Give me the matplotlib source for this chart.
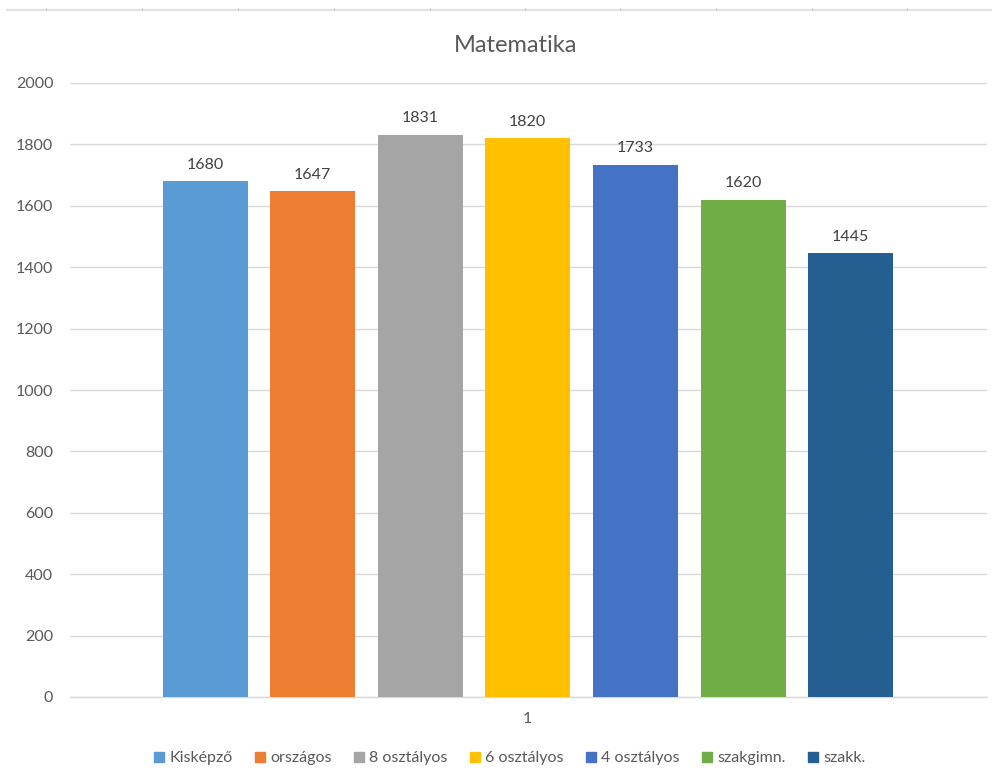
import matplotlib
matplotlib.use("Agg")
import matplotlib.pyplot as plt
from matplotlib.lines import Line2D

categories = ["Kisképző", "országos", "8 osztályos", "6 osztályos", "4 osztályos", "szakgimn.", "szakk."]
values = [1680, 1647, 1831, 1820, 1733, 1620, 1445]
colors = ["#5B9BD5", "#ED7D31", "#A5A5A5", "#FFC000", "#4472C4", "#70AD47", "#255E91"]
yticks = [0, 200, 400, 600, 800, 1000, 1200, 1400, 1600, 1800, 2000]
x_label = "1"
title = "Matematika"

plt.rcParams['font.family'] = ['Lato', 'DejaVu Sans']
txt = "#595959"
fs = 11.5

W, H = 992, 782
fig = plt.figure(figsize=(W / 100, H / 100), dpi=100)

# top stray border line with ticks (from cropped screenshot)
top = fig.add_axes([0, 0, 1, 1], zorder=-1)
top.set_xlim(0, W)
top.set_ylim(H, 0)
top.axis("off")
top.plot([7, W], [10, 10], color="#E2E2E2", lw=1.6)
for tx in [46, 142, 238, 334, 430, 525, 620, 716, 812, 907]:
    top.plot([tx, tx], [7.5, 10], color="#D0D0D0", lw=0.8)

left, right, ytop, ybot = 70, 987, 83, 697
ax = fig.add_axes([left / W, 1 - ybot / H, (right - left) / W, (ybot - ytop) / H])

pitch = 107.6
width = 85 / pitch
x0 = (205 - left) / pitch
xs = list(range(len(values)))
bars = ax.bar(xs, values, width=width, color=colors, zorder=3)
ax.set_xlim(-x0, (right - left) / pitch - x0)
ax.set_ylim(0, 2000)

ax.set_yticks(yticks)
ax.set_yticklabels([str(v) for v in yticks], color=txt, fontsize=fs)
ax.tick_params(axis="y", length=0, pad=12)
ax.grid(axis="y", color="#D9D9D9", lw=1, zorder=0)
ax.set_xticks([3])
ax.set_xticklabels([x_label], color=txt, fontsize=fs)
ax.tick_params(axis="x", length=0, pad=11)
for s in ["top", "right", "left"]:
    ax.spines[s].set_visible(False)
ax.spines["bottom"].set_color("#D9D9D9")
ax.spines["bottom"].set_linewidth(1)

for x, v in zip(xs, values):
    ax.annotate(str(v), (x, v), xytext=(0, 7), textcoords="offset points",
                ha="center", va="bottom", color="#404040", fontsize=fs)

fig.text(516 / W, 1 - 46 / H, title, ha="center", va="center",
         fontsize=17, color=txt)

handles = [Line2D([], [], marker="s", linestyle="none", markersize=6.5,
                  markerfacecolor=c, markeredgecolor=c) for c in colors]
fig.legend(handles, categories, loc="center", bbox_to_anchor=(510 / W, 1 - 758 / H),
           ncol=7, frameon=False, fontsize=fs, labelcolor=txt,
           handletextpad=0.35, columnspacing=1.4, handlelength=0.6,
           borderpad=0, borderaxespad=0)

fig.savefig("out.png", dpi=100, facecolor="white")
